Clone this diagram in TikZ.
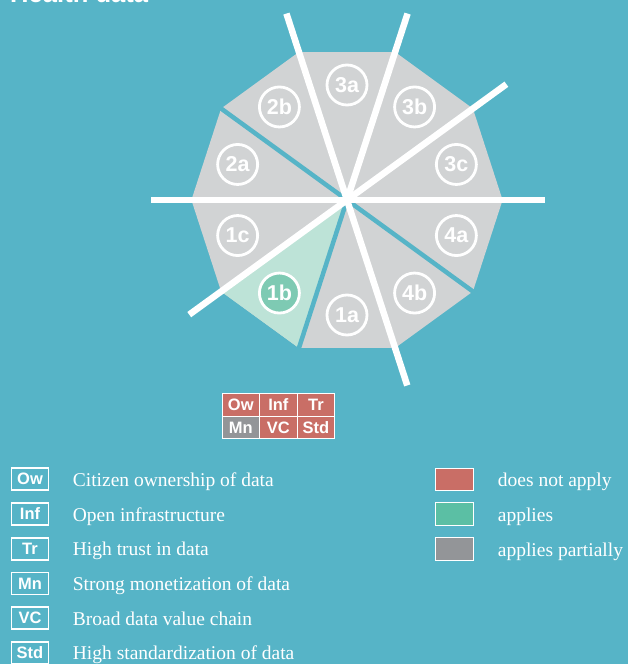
\documentclass[tikz,border=0pt]{standalone}
\usepackage{fontspec}
\setmainfont{Liberation Serif}
\newfontfamily\hv{Liberation Sans}
\definecolor{bgteal}{HTML}{56B4C7}
\definecolor{secgray}{HTML}{D1D3D4}
\definecolor{lightmint}{HTML}{BDE3D7}
\definecolor{mintdot}{HTML}{7ECAB3}
\definecolor{cellred}{HTML}{C96E66}
\definecolor{cellgreen}{HTML}{5BBFA4}
\definecolor{cellgray}{HTML}{939598}
\tikzset{
  lbl/.style={circle, draw=white, line width=2.8pt, minimum size=40pt, inner sep=0pt,
    text=white, font=\hv\bfseries\fontsize{21.5}{23}\selectfont},
  cell/.style={rectangle, draw=white, line width=1pt, minimum width=37.6pt, minimum height=22.5pt,
    inner sep=0pt, text=white, font=\hv\bfseries\fontsize{16.5}{18}\selectfont},
  keybox/.style={rectangle, draw=white, line width=1.7pt, minimum width=37pt, minimum height=22pt,
    inner sep=0pt, text=white, font=\hv\bfseries\fontsize{16.5}{18}\selectfont},
  swatch/.style={rectangle, draw=white, line width=1pt, minimum width=38pt, minimum height=22.5pt, inner sep=0pt},
  desc/.style={anchor=base west, inner sep=0pt, text=white, font=\fontsize{19.5}{22}\selectfont},
  whiteline/.style={draw=white, line width=6.5pt},
  gapline/.style={draw=bgteal, line width=4.5pt}
}
\begin{document}
\begin{tikzpicture}[x=1pt,y=1pt]
\useasboundingbox (0,0) rectangle (628,-664);
\fill[bgteal] (0,0) rectangle (628,-664);
% clipped title
\node[anchor=base west, inner sep=0pt, text=white, font=\hv\bfseries\fontsize{25.6}{28}\selectfont] (title) at (10,-2.3) {Health data};
\begin{scope}[shift={(347,-200)}]
  \coordinate (c) at (0,0);
  \fill[secgray] (0:155.6) \foreach \a in {36,72,...,324} {-- (\a:155.6)} -- cycle;
  \fill[lightmint] (c) -- (-108:155.6) -- (-144:155.6) -- cycle;
  % teal gaps
  \foreach \a/\n in {144/ga,-36/gb,-108/gc} {
    \coordinate (\n) at (\a:158);
    \draw[gapline] (c) -- (\n);
  }
  % white separators
  \coordinate (w1) at (180:196);
  \coordinate (w2) at (0:198);
  \coordinate (w3) at (108:196);
  \coordinate (w4) at (-72:195);
  \coordinate (w5) at (72:196);
  \coordinate (w6) at (36:197);
  \coordinate (w7) at (216:195);
  \draw[whiteline] (w1) -- (w2);
  \draw[whiteline] (w3) -- (w4);
  \draw[whiteline] (c) -- (w5);
  \draw[whiteline] (w6) -- (w7);
  % labels
  \node[lbl] (s3a) at (90:115) {3a};
  \node[lbl] (s3b) at (54:115) {3b};
  \node[lbl] (s3c) at (18:115) {3c};
  \node[lbl] (s4a) at (-18:115) {4a};
  \node[lbl] (s4b) at (-54:115) {4b};
  \node[lbl] (s1a) at (-90:115) {1a};
  \node[lbl, fill=mintdot] (s1b) at (-126:115) {1b};
  \node[lbl] (s1c) at (-162:115) {1c};
  \node[lbl] (s2a) at (162:115) {2a};
  \node[lbl] (s2b) at (126:115) {2b};
\end{scope}
% table
\node[cell, fill=cellred] (tOw) at (240.8,-405) {Ow};
\node[cell, fill=cellred] (tInf) at (278.4,-405) {Inf};
\node[cell, fill=cellred] (tTr) at (316,-405) {Tr};
\node[cell, fill=cellgray] (tMn) at (240.8,-427.5) {Mn};
\node[cell, fill=cellred] (tVC) at (278.4,-427.5) {VC};
\node[cell, fill=cellred] (tStd) at (316,-427.5) {Std};
% left key
\node[keybox] (kOw) at (30,-479.3) {Ow};
\node[keybox] (kInf) at (30,-514) {Inf};
\node[keybox] (kTr) at (30,-548.7) {Tr};
\node[keybox] (kMn) at (30,-583.4) {Mn};
\node[keybox] (kVC) at (30,-618.1) {VC};
\node[keybox] (kStd) at (30,-652.8) {Std};
\node[desc] (dOw) at (72.7,-486.3) {Citizen ownership of data};
\node[desc] (dInf) at (72.7,-521) {Open infrastructure};
\node[desc] (dTr) at (72.7,-555.7) {High trust in data};
\node[desc] (dMn) at (72.7,-590.4) {Strong monetization of data};
\node[desc] (dVC) at (72.7,-625.1) {Broad data value chain};
\node[desc] (dStd) at (72.7,-659.8) {High standardization of data};
% right key
\node[swatch, fill=cellred] (rRed) at (454.5,-479.3) {};
\node[swatch, fill=cellgreen] (rGreen) at (454.5,-514.2) {};
\node[swatch, fill=cellgray] (rGray) at (454.5,-549) {};
\node[desc] (tRed) at (497.7,-486.3) {does not apply};
\node[desc] (tGreen) at (497.7,-521.2) {applies};
\node[desc] (tGray) at (497.7,-556) {applies partially};
\end{tikzpicture}
\end{document}
